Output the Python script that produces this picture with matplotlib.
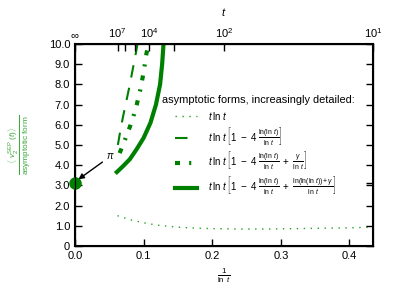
import numpy as np
import matplotlib
matplotlib.use('Agg')
from matplotlib import pyplot as plt

plt.rcParams['font.family'] = ['Liberation Sans', 'DejaVu Sans']
plt.rcParams['mathtext.fontset'] = 'custom'
plt.rcParams['mathtext.rm'] = 'Liberation Sans'
plt.rcParams['mathtext.it'] = 'Liberation Sans:italic'
plt.rcParams['mathtext.bf'] = 'Liberation Sans:bold'

# ratio <v2^SEP(t)> / asymptotic form, plotted against 1/ln t
x_form1 = [0.062, 0.08, 0.10, 0.12, 0.14, 0.16, 0.18, 0.20, 0.22, 0.24, 0.26,
           0.28, 0.30, 0.32, 0.34, 0.36, 0.38, 0.40, 0.42, 0.433]
y_form1 = [1.50, 1.30, 1.15, 1.03, 0.96, 0.91, 0.88, 0.86, 0.85, 0.84, 0.84,
           0.84, 0.85, 0.86, 0.87, 0.88, 0.89, 0.90, 0.92, 0.94]

x_form2 = [0.0625, 0.066, 0.070, 0.075, 0.080, 0.085, 0.089, 0.091]
y_form2 = [5.0, 5.7, 6.4, 7.2, 8.0, 8.9, 9.6, 10.0]

x_form3 = [0.065, 0.070, 0.075, 0.080, 0.085, 0.090, 0.095, 0.100, 0.104, 0.107]
y_form3 = [4.6, 5.0, 5.45, 5.9, 6.4, 7.0, 7.7, 8.6, 9.5, 10.0]

x_form4 = [0.061, 0.070, 0.080, 0.090, 0.100, 0.110, 0.118, 0.124, 0.127, 0.129]
y_form4 = [3.66, 3.95, 4.3, 4.8, 5.35, 6.1, 7.0, 8.0, 9.0, 10.0]

labels = [
    r'$t\,\ln\,t$',
    r'$t\,\ln\,t\,\left[1\ -\ 4\ \frac{\ln(\ln\,t)}{\ln\,t}\right]$',
    r'$t\,\ln\,t\,\left[1\ -\ 4\ \frac{\ln(\ln\,t)}{\ln\,t}\ +\ \frac{\gamma}{\ln\,t}\right]$',
    r'$t\,\ln\,t\,\left[1\ -\ 4\ \frac{\ln(\ln\,t)}{\ln\,t}\ +\ \frac{\ln(\ln(\ln\,t))+\gamma}{\ln\,t}\right]$',
]

# top axis: t values
t_major_exp = [None, 7, 4, 2, 1]
t_major_lbl = [r'$\infty$', r'$10^7$', r'$10^4$', r'$10^2$', r'$10^1$']
t_minor_exp = [6, 5, 3]

green = '#008000'

fig = plt.figure(figsize=(4.15, 2.97), dpi=100)
ax = fig.add_axes([0.1807, 0.1717, 0.7181, 0.6802])

ax.plot(x_form1, y_form1, color='#22a022', lw=1.0, ls=(0, (1, 4)), label=labels[0])
ax.plot(x_form2, y_form2, color=green, lw=1.5, ls=(0, (6, 5)), label=labels[1])
ax.plot(x_form3, y_form3, color=green, lw=3.0, ls=(0, (1.2, 2.2, 0.5, 2.2)), label=labels[2])
ax.plot(x_form4, y_form4, color=green, lw=3.0, label=labels[3])

# limit value pi at t -> infinity
ax.plot([0], [np.pi], 'o', color=green, ms=8, clip_on=False, zorder=5)
ax.annotate(r'$\pi$', xy=(0.005, 3.3), xytext=(0.052, 4.2), fontsize=7,
            ha='center', va='bottom',
            arrowprops=dict(arrowstyle='-|>', color='black', lw=1.0,
                            mutation_scale=8, shrinkA=1, shrinkB=0))

ax.set_xlim(0, 1 / np.log(10))
ax.set_ylim(0, 10)
ax.set_xticks([0.0, 0.1, 0.2, 0.3, 0.4])
ax.set_xticklabels(['0.0', '0.1', '0.2', '0.3', '0.4'])
ax.set_yticks(range(11))
ax.set_yticklabels(['0'] + ['%.1f' % v for v in range(1, 11)])
ax.tick_params(direction='in', length=5, width=1, labelsize=8, right=True)
for s in ax.spines.values():
    s.set_linewidth(1.5)

ax.set_xlabel(r'$\frac{1}{\ln\ t}$', fontsize=8, labelpad=4)
ax.set_ylabel(r'$\frac{\langle\ v_2^{\rm SEP}\ (t)\rangle}{\rm asymptotic\ form}$',
              color='#3aaa3a', fontsize=8.5)
ax.yaxis.set_label_coords(-0.14, 0.5)

# right side: extra tick at pi
axr = ax.twinx()
axr.set_ylim(0, 10)
axr.set_yticks(list(range(11)) + [np.pi])
axr.set_yticklabels([])
axr.tick_params(direction='in', length=5, width=1)

axt = ax.twiny()
axt.set_xlim(ax.get_xlim())
pos = [0.0 if e is None else 1 / (e * np.log(10)) for e in t_major_exp]
axt.set_xticks(pos)
axt.set_xticklabels(t_major_lbl)
axt.set_xticks([1 / (e * np.log(10)) for e in t_minor_exp], minor=True)
axt.tick_params(which='both', direction='in', length=5, width=1, labelsize=8, pad=3)
axt.set_xlabel(r'$t$', fontsize=8, labelpad=7)

ax.text(0.292, 0.70, 'asymptotic forms, increasingly detailed:', transform=ax.transAxes,
        fontsize=7.9, ha='left', va='bottom')
ax.legend(loc='upper left', bbox_to_anchor=(0.335, 0.675), frameon=False, fontsize=7,
          handlelength=2.3, handletextpad=1.1, labelspacing=0.3, borderpad=0,
          borderaxespad=0)

fig.savefig('out.png', dpi=100)
